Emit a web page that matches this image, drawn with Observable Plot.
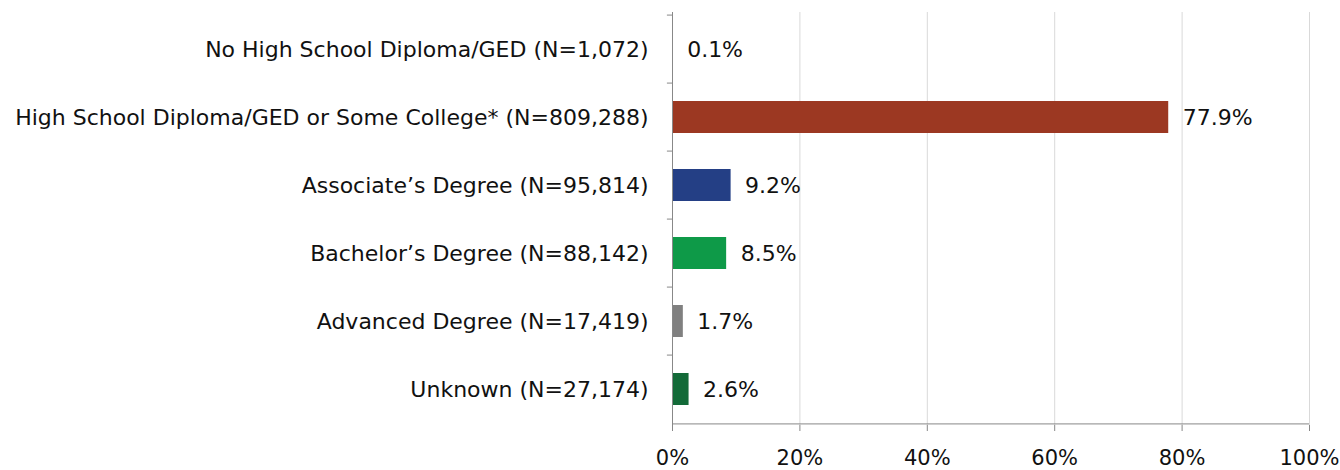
<!DOCTYPE html>
<html><head><meta charset="utf-8">
<script src="https://cdn.jsdelivr.net/npm/d3@7"></script>
<script src="https://cdn.jsdelivr.net/npm/@observablehq/plot@0.6"></script>
<style>
body{margin:0;background:#fff;}
svg{font-family:"DejaVu Sans",sans-serif;}
</style></head>
<body><div id="chart"></div>
<script>
const categories = [
  "No High School Diploma/GED (N=1,072)",
  "High School Diploma/GED or Some College* (N=809,288)",
  "Associate’s Degree (N=95,814)",
  "Bachelor’s Degree (N=88,142)",
  "Advanced Degree (N=17,419)",
  "Unknown (N=27,174)"
];
const values = [0.001, 0.779, 0.092, 0.085, 0.017, 0.026];
const valueLabels = ["0.1%", "77.9%", "9.2%", "8.5%", "1.7%", "2.6%"];
const colors = ["#9c3822", "#9c3822", "#243f85", "#0e9a48", "#808080", "#136a38"];
const xTicks = [0, 0.2, 0.4, 0.6, 0.8, 1.0];

const data = categories.map((c, i) => ({cat: c, value: values[i], label: valueLabels[i], color: colors[i]}));

const W = 1340, H = 470, mT = 12, mB = 45;
const step = (H - mT - mB) / categories.length;

const chart = Plot.plot({
  width: W, height: H,
  marginLeft: 672, marginRight: 31, marginTop: mT, marginBottom: mB,
  x: {domain: [0, 1]},
  y: {domain: categories, paddingInner: 0.535, paddingOuter: 0.2675},
  style: {fontSize: "22px", color: "#111"},
  marks: [
    Plot.gridX(xTicks.slice(1), {stroke: "#d9d9d9", strokeOpacity: 1, strokeWidth: 1}),
    Plot.barX(data, {y: "cat", x: "value", fill: "color"}),
    Plot.text(data, {y: "cat", x: "value", text: "label", textAnchor: "start", dx: 14, fontSize: 22, fill: "#111"}),
    Plot.ruleX([0], {stroke: "#888", strokeWidth: 1}),
    Plot.ruleY(categories, {y: d => d, x1: -0.008, x2: 0, dy: -step / 2, stroke: "#888"}),
    Plot.ruleY(categories.slice(-1), {y: d => d, x1: 0, x2: 1, dy: step / 2, stroke: "#888"}),
    Plot.axisX({ticks: xTicks, tickFormat: d => Math.round(d * 100) + "%", tickSize: 6, tickPadding: 19, fontSize: 21, stroke: "#888", label: null}),
    Plot.axisY({tickSize: 0, tickPadding: 24, fontSize: 22, label: null})
  ]
});
document.getElementById("chart").appendChild(chart);
</script>
</body></html>
